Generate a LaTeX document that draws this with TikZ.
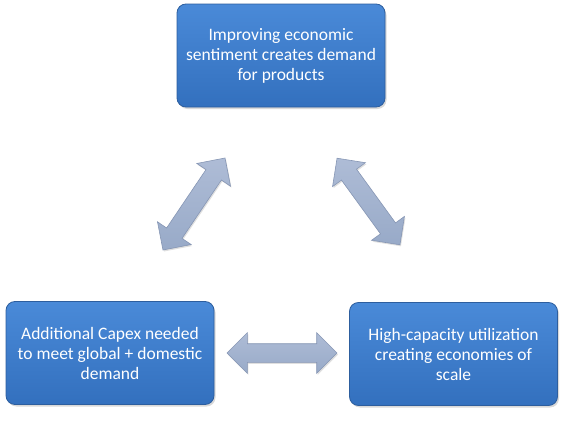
\documentclass[tikz,border=0pt]{standalone}
\usepackage{fontspec}
\setmainfont{Carlito}
\usetikzlibrary{shapes.arrows,shadows}
\definecolor{boxtop}{HTML}{4A8AD8}
\definecolor{boxbot}{HTML}{3370BE}
\definecolor{boxline}{HTML}{2D5E9E}
\definecolor{arrtop}{HTML}{AEBCD6}
\definecolor{arrmid}{HTML}{E6ECF6}
\definecolor{arrbot}{HTML}{98AAC8}
\definecolor{arrline}{HTML}{8696B4}
\begin{document}
\begin{tikzpicture}[x=1pt,y=-1pt,
  box/.style={rounded corners=9pt, top color=boxtop, bottom color=boxbot,
    draw=boxline, line width=0.8pt, text=white, align=center,
    font=\fontsize{17.5}{20}\selectfont, inner sep=0pt,
    minimum width=208pt, minimum height=103pt,
    drop shadow={shadow xshift=1.5pt, shadow yshift=-2pt, opacity=0.3}},
  darrow/.style={double arrow, double arrow head extend=11pt,
    double arrow tip angle=90, inner xsep=0pt, inner ysep=9pt,
    draw=arrline, line width=0.6pt,
    top color=arrtop, middle color=arrmid, bottom color=arrbot,
    drop shadow={shadow xshift=1pt, shadow yshift=-1.5pt, opacity=0.25}}]
\useasboundingbox (0,0) rectangle (566,423);
\node[box] (top) at (281,55.5) {Improving economic\\sentiment creates demand\\for products};
\node[box] (left) at (110,353) {Additional Capex needed\\to meet global + domestic\\demand};
\node[box] (right) at (453.5,354) {High-capacity utilization\\creating economies of\\scale};
\node[darrow, minimum height=111pt, rotate=56] (a1) at (194,204) {};
\node[darrow, minimum height=107pt, rotate=-54] (a2) at (368.5,201.5) {};
\node[darrow, minimum height=110pt] (a3) at (282,353) {};
\end{tikzpicture}
\end{document}
